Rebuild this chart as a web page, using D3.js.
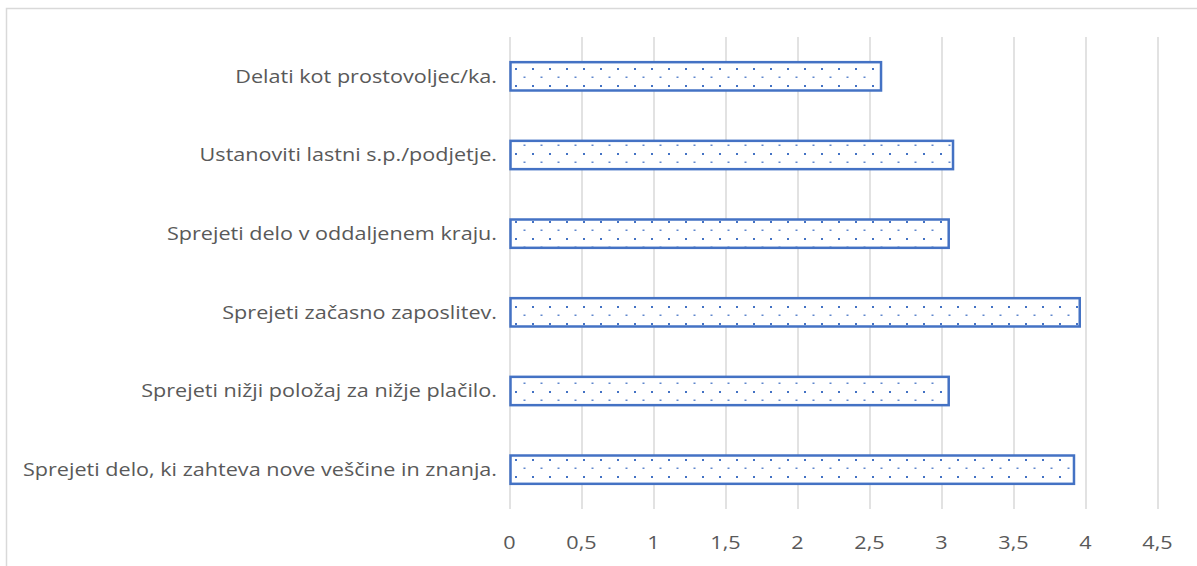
<!DOCTYPE html>
<html>
<head>
<meta charset="utf-8">
<script src="https://cdn.jsdelivr.net/npm/d3@7"></script>
<style>
  body { margin: 0; background: #fff; }
  svg { display: block; }
  .lbl { font-family: "Open Sans", sans-serif; fill: #595959; font-size: 18px; }
</style>
</head>
<body>
<div id="viz"></div>
<script>
// categories, top to bottom
var categories = [
  "Delati kot prostovoljec/ka.",
  "Ustanoviti lastni s.p./podjetje.",
  "Sprejeti delo v oddaljenem kraju.",
  "Sprejeti začasno zaposlitev.",
  "Sprejeti nižji položaj za nižje plačilo.",
  "Sprejeti delo, ki zahteva nove veščine in znanja."
]
var values = [2.58, 3.08, 3.05, 3.96, 3.05, 3.92]
var ticks = [0, 0.5, 1, 1.5, 2, 2.5, 3, 3.5, 4, 4.5]

function barChart() {
  let width = 1197
  let height = 566
  let blue = '#4472C4'
  let stretch = 1.2  // reference text is wider than it is tall

  let svg = d3.select('#viz').append('svg')
    .attr('width', width)
    .attr('height', height)

  // dotted fill like the office pattern
  let pat = svg.append('defs').append('pattern')
    .attr('id', 'dots')
    .attr('patternUnits', 'userSpaceOnUse')
    .attr('width', 17)
    .attr('height', 17)
    .attr('x', 515)
    .attr('y', 0)
  pat.append('rect').attr('width', 17).attr('height', 17).attr('fill', '#fff')
  pat.append('rect').attr('x', 0).attr('y', 0).attr('width', 2).attr('height', 2).attr('fill', blue)
  pat.append('rect').attr('x', 8.5).attr('y', 8.5).attr('width', 2).attr('height', 1.5).attr('fill', blue).attr('opacity', 0.85)

  // outer frame (only top and left show)
  svg.append('rect')
    .attr('x', 6.5)
    .attr('y', 8.5)
    .attr('width', width + 10)
    .attr('height', height + 10)
    .attr('fill', 'none')
    .attr('stroke', '#d9d9d9')
    .attr('stroke-width', 1.5)

  let xScale = d3.scaleLinear()
    .domain([0, 4.5])
    .range([509.5, 1157.5])

  let yScale = d3.scaleBand()
    .domain(categories)
    .range([37, 509])
    .paddingInner(0.64)
    .paddingOuter(0.32)

  // vertical grid lines
  svg.append('g')
    .attr('transform', 'translate(0, 509)')
    .call(d3.axisBottom(xScale)
      .tickValues(ticks)
      .tickSize(-472)
      .tickFormat(''))
    .call(g => g.select('.domain').remove())
    .call(g => g.selectAll('line').attr('stroke', '#d9d9d9').attr('stroke-width', 1.5))

  // tick labels
  svg.append('g')
    .selectAll('text')
    .data(ticks)
    .enter()
    .append('text')
    .attr('class', 'lbl')
    .attr('transform', (d) => `translate(${xScale(d)}, 549) scale(${stretch}, 1)`)
    .attr('text-anchor', 'middle')
    .text((d) => String(d).replace('.', ','))

  // category labels
  svg.append('g')
    .selectAll('text')
    .data(categories)
    .enter()
    .append('text')
    .attr('class', 'lbl')
    .attr('transform', (d) => `translate(497, ${yScale(d) + yScale.bandwidth() / 2}) scale(${stretch}, 1)`)
    .attr('dy', '0.35em')
    .attr('text-anchor', 'end')
    .text((d) => d)

  svg.append('g')
    .selectAll('rect')
    .data(values)
    .enter()
    .append('rect')
    .attr('x', xScale(0) + 1)
    .attr('y', (d, i) => yScale(categories[i]))
    .attr('width', (d) => xScale(d) - xScale(0) - 1)
    .attr('height', yScale.bandwidth())
    .attr('fill', 'url(#dots)')
    .attr('stroke', blue)
    .attr('stroke-width', 2.5)
}

barChart()
</script>
</body>
</html>
